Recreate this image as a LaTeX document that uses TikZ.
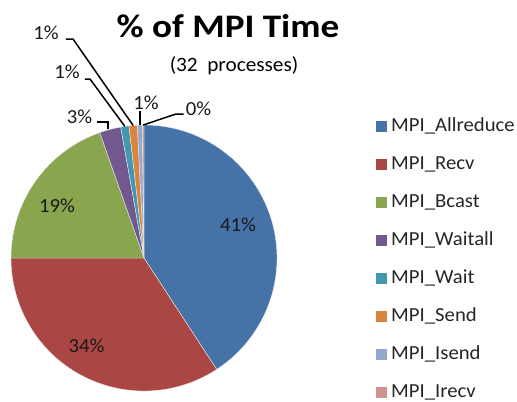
\documentclass[tikz,border=0pt]{standalone}
\usepackage{fontspec}
\setmainfont{Carlito}[FakeStretch=1.04]
\newfontfamily\titlefont{Carlito}[FakeStretch=1.13]
\usetikzlibrary{calc}
\begin{document}
\begin{tikzpicture}[x=1bp,y=1bp,
  lbl/.style={anchor=base, inner sep=0pt, font=\fontsize{20}{24}\selectfont, text=black!90},
  leader/.style={draw=black, line width=1.5bp},
  slice/.style={draw=white!85!gray, line width=0.4bp},
  key/.style={minimum size=11bp, inner sep=0pt},
  keytext/.style={anchor=west, inner sep=0pt, font=\fontsize{20}{24}\selectfont, text=black!85}]
\definecolor{cAll}{HTML}{4572A7}
\definecolor{cRecv}{HTML}{AA4643}
\definecolor{cBcast}{HTML}{89A54E}
\definecolor{cWaitall}{HTML}{71588F}
\definecolor{cWait}{HTML}{4198AF}
\definecolor{cSend}{HTML}{DB843D}
\definecolor{cIsend}{HTML}{93A9CF}
\definecolor{cIrecv}{HTML}{D19392}
\fill[white] (0,0) rectangle (517,401);
\useasboundingbox (0,0) rectangle (517,401);

% pie: centre and radius
\coordinate (c) at (144,143);
\def\R{133}
% slices, clockwise from the top
\foreach \a/\b/\col in {90/-56.88/cAll, -56.88/-180/cRecv, -180/-250.56/cBcast,
    -250.56/-259.92/cWaitall, -259.92/-263.52/cWait, -263.52/-267.12/cSend,
    -267.12/-269.28/cIsend, -269.28/-270/cIrecv}
  \filldraw[slice, fill=\col] (c) -- ++(\a:\R) arc[start angle=\a, end angle=\b, radius=\R] -- cycle;

% points on the rim for the small slices
\coordinate (eWaitall) at ($(c)+(104.76:\R)$);
\coordinate (eWait) at ($(c)+(98.28:\R)$);
\coordinate (eSend) at ($(c)+(94.68:\R)$);
\coordinate (eIsend) at ($(c)+(91.8:\R)$);
\coordinate (eIrecv) at ($(c)+(90.36:\R)$);

% title
\node[anchor=base, inner sep=0pt, font=\titlefont\fontsize{33}{38}\selectfont\bfseries] (title) at (228,364) {\% of MPI Time};
\node[anchor=base, inner sep=0pt, font=\fontsize{20.5}{24}\selectfont] (sub) at (234,330) {(32\ \ processes)};

% labels inside slices
\node[lbl] (pAll) at (238,170) {41\%};
\node[lbl] (pRecv) at (86.5,49) {34\%};
\node[lbl] (pBcast) at (57,189) {19\%};

% labels outside with leader lines
\node[lbl] (pWaitall) at (79.5,278) {3\%};
\node[lbl] (pWait) at (67,323) {1\%};
\node[lbl] (pSend) at (46,362) {1\%};
\node[lbl] (pIsend) at (146,292) {1\%};
\node[lbl] (pIrecv) at (198.5,286) {0\%};

\coordinate (kWaitall) at (108,279);
\coordinate (kWait) at (90,322);
\coordinate (kSend) at (73,362);
\coordinate (kIrecv) at (176,287);

\draw[leader] (pWaitall.east |- kWaitall) ++(5,0) -- (kWaitall) -- (kWaitall |- eWaitall);
\draw[leader] (pWait.east |- kWait) ++(5,0) -- (kWait) -- (eWait);
\draw[leader] (pSend.east |- kSend) ++(7,0) -- (kSend) -- (eSend);
\draw[leader] (eIsend |- pIsend.base) ++(0,-2) -- (eIsend);
\draw[leader] (pIrecv.west |- kIrecv) ++(-2,0) -- (kIrecv) -- (eIrecv);

% legend
\foreach \n/\col/\t [count=\i from 0] in {All/cAll/MPI\_Allreduce, Recv/cRecv/MPI\_Recv,
    Bcast/cBcast/MPI\_Bcast, Waitall/cWaitall/MPI\_Waitall, Wait/cWait/MPI\_Wait,
    Send/cSend/MPI\_Send, Isend/cIsend/MPI\_Isend, Irecv/cIrecv/MPI\_Irecv} {
  \node[key, fill=\col] (k\n) at (381.5,{275-38*\i}) {};
  \node[keytext] (t\n) at (391,{275-38*\i}) {\t};
}
\end{tikzpicture}
\end{document}
